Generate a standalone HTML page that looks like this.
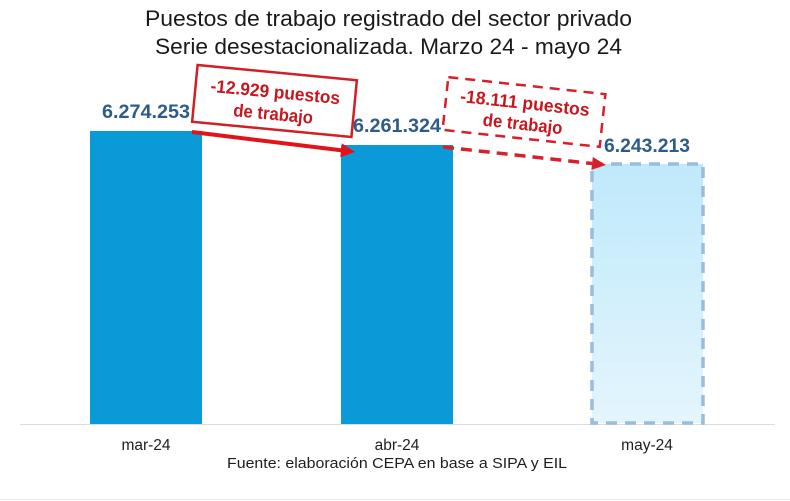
<!DOCTYPE html>
<html><head><meta charset="utf-8"><style>
html,body{margin:0;padding:0;background:#fff;}
svg{display:block;}
</style></head><body>
<svg width="790" height="501" viewBox="0 0 790 501" xmlns="http://www.w3.org/2000/svg" font-family="'Liberation Sans', sans-serif">
<defs>
<linearGradient id="g3" x1="0" y1="0" x2="0" y2="1">
<stop offset="0" stop-color="#bfe9fb"/>
<stop offset="1" stop-color="#e4f5fd"/>
</linearGradient>
</defs>
<rect width="790" height="501" fill="#fff"/>
<!-- title -->
<text x="145" y="26" font-size="22" fill="#1a1a1a" textLength="487" lengthAdjust="spacingAndGlyphs">Puestos de trabajo registrado del sector privado</text>
<text x="155" y="54" font-size="22" fill="#1a1a1a" textLength="467" lengthAdjust="spacingAndGlyphs">Serie desestacionalizada.  Marzo 24 - mayo 24</text>
<!-- axis -->
<line x1="20" y1="424.5" x2="775" y2="424.5" stroke="#dcdcdc" stroke-width="1"/>
<line x1="0" y1="499.5" x2="790" y2="499.5" stroke="#ececec" stroke-width="1"/>
<!-- bars -->
<rect x="90" y="131" width="112" height="293" fill="#0a9ad7"/>
<rect x="341" y="145" width="112" height="279" fill="#0a9ad7"/>
<rect x="592" y="164" width="111" height="259" fill="url(#g3)" stroke="#9bbcda" stroke-width="3.5" stroke-dasharray="11,8"/>
<!-- value labels -->
<text x="146" y="118" font-size="19" font-weight="bold" fill="#2c5b8c" text-anchor="middle" textLength="88" lengthAdjust="spacingAndGlyphs">6.274.253</text>
<text x="397" y="132" font-size="19" font-weight="bold" fill="#2c5b8c" text-anchor="middle" textLength="88" lengthAdjust="spacingAndGlyphs">6.261.324</text>
<text x="647" y="152" font-size="19" font-weight="bold" fill="#2c5b8c" text-anchor="middle" textLength="86" lengthAdjust="spacingAndGlyphs">6.243.213</text>
<!-- arrow 1 -->
<line x1="192" y1="132" x2="343" y2="150.5" stroke="#e3131b" stroke-width="4"/>
<g transform="translate(355,152) rotate(7)">
<polygon points="0,0 -14,-7 -14,7" fill="#e3131b"/>
</g>
<!-- box 1 -->
<g transform="translate(274.5,101) rotate(5.5)">
<rect x="-80" y="-28.5" width="160" height="57" fill="#fff" stroke="#d01f27" stroke-width="2.5"/>
<text x="0" y="-3" font-size="18" font-weight="bold" fill="#c8161e" text-anchor="middle" textLength="130" lengthAdjust="spacingAndGlyphs">-12.929 puestos</text>
<text x="0" y="19" font-size="18" font-weight="bold" fill="#c8161e" text-anchor="middle" textLength="80" lengthAdjust="spacingAndGlyphs">de trabajo</text>
</g>
<!-- arrow 2 -->
<line x1="443" y1="147" x2="592" y2="163.5" stroke="#d8202a" stroke-width="3.5" stroke-dasharray="11,7"/>
<g transform="translate(606,165) rotate(6.3)">
<polygon points="0,0 -14,-6.5 -14,6.5" fill="#d8202a"/>
</g>
<!-- box 2 -->
<g transform="translate(524,112) rotate(6.2)">
<rect x="-79" y="-26.5" width="158" height="53" fill="#fff" stroke="#d8202a" stroke-width="2.5" stroke-dasharray="10,7"/>
<text x="0" y="-3" font-size="18" font-weight="bold" fill="#c8161e" text-anchor="middle" textLength="130" lengthAdjust="spacingAndGlyphs">-18.111 puestos</text>
<text x="0" y="18" font-size="18" font-weight="bold" fill="#c8161e" text-anchor="middle" textLength="80" lengthAdjust="spacingAndGlyphs">de trabajo</text>
</g>
<!-- tick labels -->
<text x="146" y="450" font-size="15.5" fill="#1e1e1e" text-anchor="middle">mar-24</text>
<text x="397" y="450" font-size="15.5" fill="#1e1e1e" text-anchor="middle">abr-24</text>
<text x="647" y="450" font-size="15.5" fill="#1e1e1e" text-anchor="middle">may-24</text>
<text x="227" y="468" font-size="15" fill="#1e1e1e" textLength="340" lengthAdjust="spacingAndGlyphs">Fuente: elaboración CEPA en base a SIPA y EIL</text>
</svg>
</body></html>
